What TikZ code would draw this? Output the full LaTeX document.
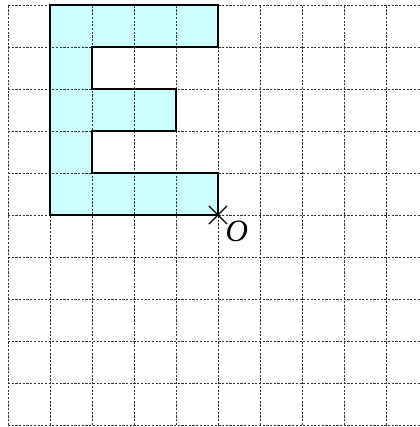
\documentclass[tikz,border=0pt]{standalone}
\usepackage{fontspec}
\setmainfont{Liberation Serif}
\usepackage{tikz}
\usetikzlibrary{shapes.misc}
\usepackage{xcolor}
\definecolor{lightcyan}{RGB}{204,255,255}

\tikzset{
    gridline/.style={black!80,line width=0.4pt,dash pattern=on 1.5pt off 1pt},
    letter/.style={fill=lightcyan,draw=black,line width=0.8pt}
}

\begin{document}
\begin{tikzpicture}
            \useasboundingbox (-0.19,-0.048) rectangle (9.81,10.119);
            % letter E
            \fill[lightcyan] (1,10) -- (5,10) -- (5,9) -- (2,9) -- (2,8) -- (4,8) -- (4,7)
                -- (2,7) -- (2,6) -- (5,6) -- (5,5) -- (1,5) -- cycle;
            % grid
            \foreach \i in {0,...,9} {
                \draw[gridline] (\i,0) -- (\i,10);
            }
            \foreach \j in {0,...,10} {
                \draw[gridline] (0,\j) -- (9.81,\j);
            }
            \draw[black,line width=0.8pt] (1,10) -- (5,10) -- (5,9) -- (2,9) -- (2,8) -- (4,8) -- (4,7)
                -- (2,7) -- (2,6) -- (5,6) -- (5,5) -- (1,5) -- cycle;
            % origin
            \node[cross out,draw=black,line width=0.9pt,minimum size=0.4cm,inner sep=0pt] (origin) at (5,5) {};
            \node[font=\fontsize{21}{21}\selectfont\itshape] (olabel) at (5.45,4.6) {O};
        \end{tikzpicture}
\end{document}
